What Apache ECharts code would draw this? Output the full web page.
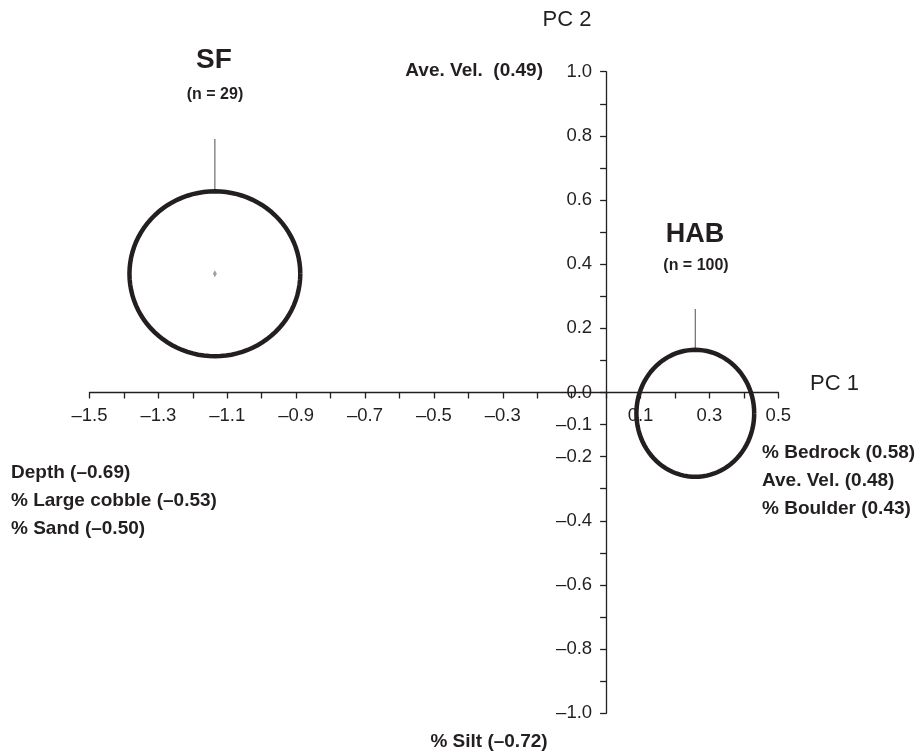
<!DOCTYPE html>
<html>
<head>
<meta charset="utf-8">
<script src="https://cdn.jsdelivr.net/npm/echarts@6/dist/echarts.min.js"></script>
<style>html,body{margin:0;padding:0;background:#fff;}#c{width:918px;height:754px;}</style>
</head>
<body>
<div id="c"></div>
<script>
// ---- data ----
const groups = ['SF', 'HAB'];
const groupN = ['(n = 29)', '(n = 100)'];
const centerX = [-1.136, 0.259];
const centerY = [0.37, -0.065];
const radiusX = [0.248, 0.171];
const radiusY = [0.257, 0.198];
const whiskerTop = [0.79, 0.26];

const xTickMin = -1.5, xTickMax = 0.5, tickStep = 0.1;
const yTickMin = -1.0, yTickMax = 1.0;

const pc1Positive = ['% Bedrock (0.58)', 'Ave. Vel. (0.48)', '% Boulder (0.43)'];
const pc1Negative = ['Depth (\u20130.69)', '% Large cobble (\u20130.53)', '% Sand (\u20130.50)'];
const pc2Positive = ['Ave. Vel.  (0.49)'];
const pc2Negative = ['% Silt (\u20130.72)'];
const axisNames = ['PC 1', 'PC 2'];

// ---- chart ----
const FONT = '"Liberation Sans", Arial, Helvetica, sans-serif';
const INK = '#231f20';
const W = 918, H = 754;
const G = {left: 89.5, right: 139.7, top: 71.7, bottom: 40.7};
const gridW = W - G.left - G.right, gridH = H - G.top - G.bottom;
// axes cross at the origin: shift each axis from its grid edge to zero of the other axis
const xAxisOffset = -gridH * (0 - yTickMin) / (yTickMax - yTickMin);
const yAxisOffset = -gridW * (0 - xTickMin) / (xTickMax - xTickMin);

const chart = echarts.init(document.getElementById('c'), null, {renderer: 'canvas'});

function fmt(v) {
  return v.toFixed(1).replace('-', '\u2013');
}

const ellipseData = groups.map((g, i) => [centerX[i], centerY[i], radiusX[i], radiusY[i], whiskerTop[i]]);

const boldText = (x, y, text, size, align) => ({
  type: 'text', x: x, y: y,
  style: {text: text, fill: INK, font: 'bold ' + size + 'px ' + FONT, textAlign: align || 'left', textVerticalAlign: 'middle'}
});

const graphics = [];
graphics.push(boldText(214, 60, groups[0], 28, 'center'));
graphics.push(boldText(215, 95, groupN[0], 16, 'center'));
graphics.push(boldText(695, 235, groups[1], 27, 'center'));
graphics.push(boldText(696, 266, groupN[1], 16, 'center'));
pc1Positive.forEach((t, i) => graphics.push(boldText(762, 453 + i * 28, t, 19, 'left')));
pc1Negative.forEach((t, i) => graphics.push(boldText(11, 473 + i * 28, t, 19, 'left')));
graphics.push(boldText(543, 71, pc2Positive[0], 19, 'right'));
graphics.push(boldText(489, 742, pc2Negative[0], 19, 'center'));
graphics.push({type: 'text', x: 810, y: 384, style: {text: axisNames[0], fill: INK, font: '22px ' + FONT, textAlign: 'left', textVerticalAlign: 'middle'}});
graphics.push({type: 'text', x: 567, y: 20, style: {text: axisNames[1], fill: INK, font: '22px ' + FONT, textAlign: 'center', textVerticalAlign: 'middle'}});

const option = {
  animation: false,
  backgroundColor: '#fff',
  grid: {left: G.left, right: G.right, top: G.top, bottom: G.bottom, containLabel: false},
  xAxis: {
    type: 'value', min: xTickMin, max: xTickMax, interval: tickStep,
    position: 'bottom', offset: xAxisOffset,
    axisLine: {show: true, onZero: false, lineStyle: {color: INK, width: 1.3}},
    axisTick: {show: true, length: 6, lineStyle: {color: INK, width: 1.3}},
    splitLine: {show: false},
    axisLabel: {
      show: true, margin: 14, color: INK, fontSize: 18.5, fontFamily: FONT,
      showMinLabel: true, showMaxLabel: true, hideOverlap: false,
      formatter: function (v) {
        const k = Math.round(v * 10);
        if (Math.abs(k) % 2 === 1 && k !== -1) return fmt(v);
        return '';
      }
    }
  },
  yAxis: {
    type: 'value', min: yTickMin, max: yTickMax, interval: tickStep,
    position: 'left', offset: yAxisOffset,
    axisLine: {show: true, onZero: false, lineStyle: {color: INK, width: 1.3}},
    axisTick: {show: true, length: 6, lineStyle: {color: INK, width: 1.3}},
    splitLine: {show: false},
    axisLabel: {
      show: true, margin: 14, color: INK, fontSize: 18.5, fontFamily: FONT,
      showMinLabel: true, showMaxLabel: true, hideOverlap: false,
      formatter: function (v) {
        const k = Math.round(v * 10);
        if (k % 2 === 0 || k === -1) return fmt(v);
        return '';
      }
    }
  },
  series: [
    {
      type: 'custom',
      clip: false,
      data: ellipseData,
      renderItem: function (params, api) {
        const cx = api.value(0), cy = api.value(1), rx = api.value(2), ry = api.value(3), wt = api.value(4);
        const pts = [];
        const n = 96;
        for (let i = 0; i <= n; i++) {
          const t = i / n * 2 * Math.PI;
          pts.push(api.coord([cx + rx * Math.cos(t), cy + ry * Math.sin(t)]));
        }
        const top = api.coord([cx, cy + ry]);
        const wtop = api.coord([cx, wt]);
        return {
          type: 'group',
          children: [
            {type: 'line', shape: {x1: top[0], y1: top[1], x2: wtop[0], y2: wtop[1]}, style: {stroke: '#6d6d6d', lineWidth: 1.2}},
            {type: 'polyline', shape: {points: pts}, style: {fill: null, stroke: INK, lineWidth: 4.5}}
          ]
        };
      }
    },
    {
      type: 'scatter',
      symbol: 'diamond',
      symbolSize: [4, 7],
      itemStyle: {color: '#8a8a8a'},
      data: [[centerX[0], centerY[0]]],
      silent: true
    }
  ],
  graphic: graphics
};
chart.setOption(option);
</script>
</body>
</html>
